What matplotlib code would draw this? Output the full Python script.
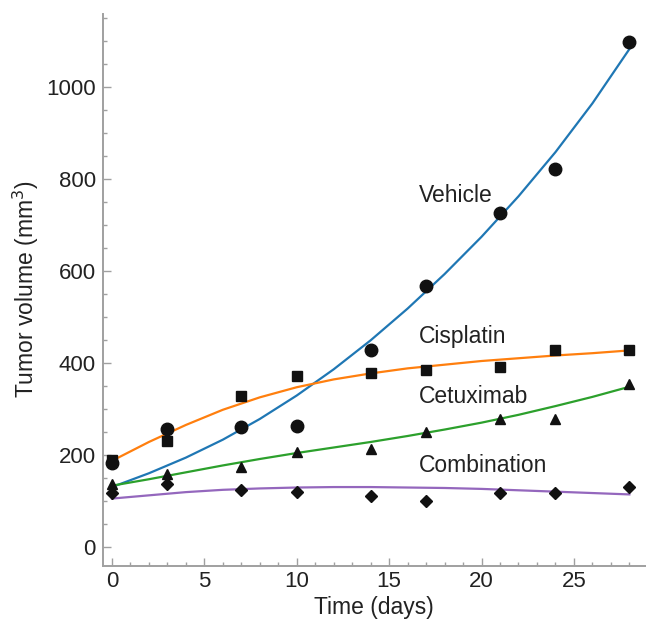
import matplotlib
matplotlib.use("Agg")
import matplotlib.pyplot as plt
from matplotlib.ticker import MultipleLocator

plt.rcParams["font.family"] = ["Liberation Sans", "DejaVu Sans"]

# measured tumour volumes (mm^3)
days = [0, 3, 7, 10, 14, 17, 21, 24, 28]
vehicle = [183, 257, 260, 262, 429, 566, 725, 821, 1097]
cisplatin = [188, 230, 329, 371, 377, 384, 392, 427, 427]
cetuximab = [136, 159, 174, 206, 213, 250, 278, 278, 354]
combination = [117, 137, 124, 120, 111, 100, 117, 118, 130]

# model fits, sampled every two days
fit_days = [0, 2, 4, 6, 8, 10, 12, 14, 16, 18, 20, 22, 24, 26, 28]
vehicle_fit = [130, 160, 194, 233, 278, 329, 386, 449, 518, 593, 674, 762, 858, 964, 1082]
cisplatin_fit = [187, 228, 265, 298, 325, 347, 364, 377, 388, 396, 404, 410, 416, 421, 427]
cetuximab_fit = [133, 147, 162, 177, 191, 204, 216, 228, 241, 255, 270, 287, 306, 326, 348]
combination_fit = [105, 112, 119, 124, 127, 129, 130, 130, 129, 128, 126, 123, 120, 117, 114]

labels = ["Vehicle", "Cisplatin", "Cetuximab", "Combination"]
label_y = [763, 457, 326, 176]

fig = plt.figure(figsize=(6.46, 6.21), dpi=100)
ax = fig.add_axes([0.159, 0.089, 0.841, 0.889])

series = [
    (vehicle, vehicle_fit, "#1f77b4", "o", 9),
    (cisplatin, cisplatin_fit, "#ff7f0e", "s", 6.5),
    (cetuximab, cetuximab_fit, "#2ca02c", "^", 7),
    (combination, combination_fit, "#9467bd", "D", 6.5),
]
for obs, fit, color, marker, ms in series:
    ax.plot(fit_days, fit, color=color, lw=1.6, zorder=2)
    ax.plot(days, obs, ls="none", marker=marker, ms=ms, color="#111111", zorder=3)

for text, y in zip(labels, label_y):
    ax.text(16.6, y, text, fontsize=16.5, color="#222222", va="center", ha="left")

ax.set_xlim(-0.5, 28.9)
ax.set_ylim(-41, 1159)
ax.xaxis.set_major_locator(MultipleLocator(5))
ax.xaxis.set_minor_locator(MultipleLocator(1))
ax.yaxis.set_major_locator(MultipleLocator(200))
ax.yaxis.set_minor_locator(MultipleLocator(50))

for side in ("top", "right"):
    ax.spines[side].set_visible(False)
for side in ("left", "bottom"):
    ax.spines[side].set_color("#a0a0a0")
    ax.spines[side].set_linewidth(1.4)

ax.tick_params(which="both", direction="in", color="#a0a0a0", labelcolor="#222222",
               labelsize=16, width=1.0)
ax.tick_params(which="major", length=6)
ax.tick_params(which="minor", length=3)
ax.tick_params(axis="x", which="major", pad=4)
ax.tick_params(axis="y", which="major", pad=5)

ax.set_xlabel("Time (days)", fontsize=16.5, color="#222222", labelpad=3)
ax.set_ylabel("Tumor volume (mm$^3$)", fontsize=16.5, color="#222222", labelpad=4)

fig.savefig("out.png", dpi=100)
